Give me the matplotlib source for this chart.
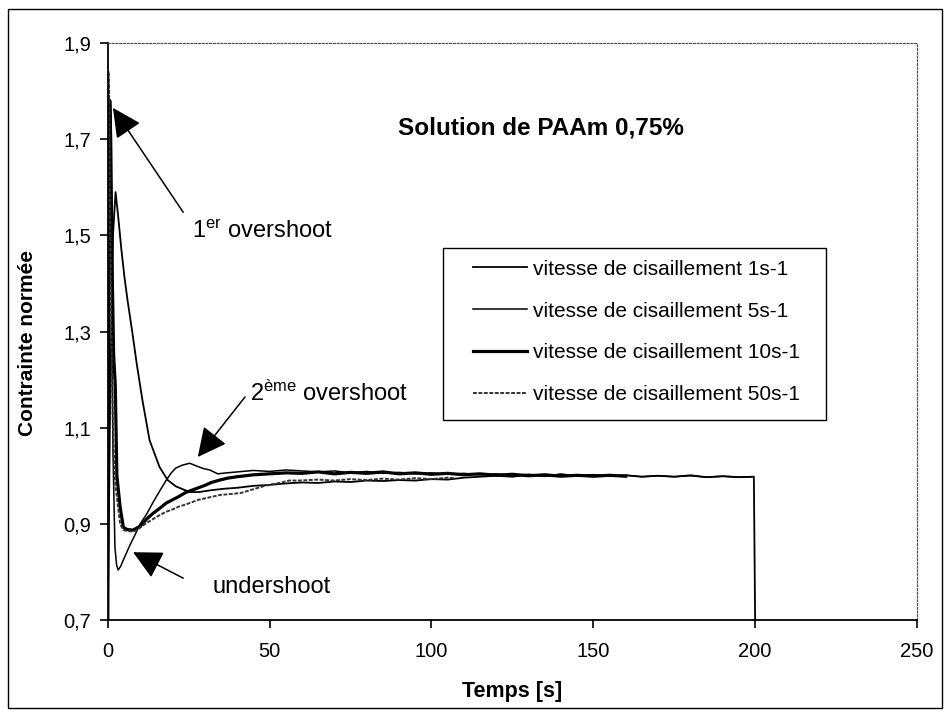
import matplotlib
matplotlib.use("Agg")
import matplotlib.pyplot as plt
from matplotlib.patches import Rectangle

plt.rcParams['font.family'] = ['Liberation Sans', 'DejaVu Sans']
plt.rcParams['mathtext.fontset'] = 'custom'
plt.rcParams['mathtext.rm'] = 'Liberation Sans'
plt.rcParams['mathtext.it'] = 'Liberation Sans:italic'
plt.rcParams['mathtext.bf'] = 'Liberation Sans:bold'

# ---------------- data ----------------
t_1 = [0, 0.8, 1.6, 2.4, 3.2, 4.2, 5.2, 6.1, 7.6, 9.0, 10.7, 12.9, 14.5, 16.0, 18.5, 21.0,
       25.3, 28, 32, 36, 40, 45, 50, 55, 60, 65, 70, 75, 80, 85, 90, 95, 100, 105, 110,
       115, 120, 125, 130, 135, 140, 145, 150, 155, 160, 165, 170, 175, 180, 185, 190,
       195, 199.6, 200.0]
y_1 = [0.70, 1.20, 1.50, 1.59, 1.54, 1.47, 1.41, 1.365, 1.297, 1.23, 1.157, 1.074, 1.045,
       1.018, 0.991, 0.978, 0.966, 0.966, 0.970, 0.973, 0.975, 0.979, 0.981, 0.984, 0.986,
       0.985, 0.988, 0.987, 0.990, 0.989, 0.991, 0.990, 0.993, 0.992, 0.996, 0.998, 1.000,
       0.998, 1.002, 0.999, 1.003, 1.000, 1.002, 0.999, 1.001, 0.998, 1.000, 0.998, 1.001,
       0.997, 0.999, 0.997, 0.998, 0.690]

t_5 = [0, 0.4, 0.8, 1.2, 1.6, 2.2, 2.7, 3.2, 4.0, 5.0, 5.8, 7.0, 8.4, 10, 12, 14, 16, 18,
       19.5, 21, 23, 25.3, 27.5, 29.5, 31.5, 34, 36.7, 40, 45, 50, 55, 60, 65, 70, 75, 80,
       85, 90, 95, 100, 105, 110, 115, 120, 125, 130, 135, 140, 145, 150, 155, 160, 165,
       170, 175, 180, 185, 190, 195, 199]
y_5 = [0.70, 1.45, 1.62, 1.35, 1.05, 0.852, 0.815, 0.804, 0.812, 0.828, 0.840, 0.858, 0.877,
       0.900, 0.920, 0.945, 0.968, 0.990, 1.005, 1.016, 1.022, 1.026, 1.020, 1.015, 1.012,
       1.004, 1.006, 1.008, 1.011, 1.009, 1.012, 1.010, 1.008, 1.010, 1.006, 1.009, 1.005,
       1.007, 1.004, 1.006, 1.003, 1.005, 1.002, 1.004, 1.001, 1.003, 1.000, 1.003, 1.000,
       1.002, 0.999, 1.001, 0.998, 1.000, 0.998, 1.000, 0.997, 0.999, 0.997, 0.998]

t_10 = [0, 0.3, 0.6, 0.9, 1.3, 1.8, 2.3, 2.8, 3.8, 4.8, 6.0, 7.8, 10, 12, 14, 16, 18, 20,
        22, 24, 26, 28, 30, 32, 34.6, 37, 40, 45, 50, 55, 60, 65, 70, 75, 80, 85, 90, 95,
        100, 105, 110, 115, 120, 125, 130, 135, 140, 145, 150, 155, 160]
y_10 = [0.70, 1.50, 1.78, 1.70, 1.45, 1.25, 1.19, 1.00, 0.935, 0.893, 0.888, 0.887, 0.895,
        0.910, 0.922, 0.932, 0.943, 0.950, 0.957, 0.965, 0.970, 0.975, 0.980, 0.986, 0.991,
        0.995, 0.998, 1.002, 1.004, 1.006, 1.005, 1.008, 1.004, 1.007, 1.005, 1.008, 1.004,
        1.006, 1.003, 1.005, 1.002, 1.004, 1.001, 1.003, 1.000, 1.002, 0.999, 1.001, 0.999,
        1.001, 0.999]

t_50 = [0, 0.2, 0.4, 0.7, 1.0, 1.6, 2.2, 2.8, 3.8, 4.8, 6.0, 7.8, 9, 10, 12, 14, 16, 18,
        20, 22, 24, 26, 28, 30, 32, 34.6, 38, 41, 45, 49, 53, 56, 59, 65, 70, 75, 80, 85,
        90, 95, 100, 105, 107]
y_50 = [0.70, 1.84, 1.80, 1.55, 1.35, 1.095, 0.990, 0.956, 0.900, 0.887, 0.885, 0.884,
        0.887, 0.892, 0.902, 0.910, 0.918, 0.925, 0.930, 0.936, 0.940, 0.945, 0.950, 0.953,
        0.956, 0.960, 0.962, 0.964, 0.972, 0.980, 0.985, 0.990, 0.990, 0.992, 0.990, 0.993,
        0.991, 0.994, 0.992, 0.995, 0.993, 0.996, 0.995]

labels = ["vitesse de cisaillement 1s-1", "vitesse de cisaillement 5s-1",
          "vitesse de cisaillement 10s-1", "vitesse de cisaillement 50s-1"]
xticks = [0, 50, 100, 150, 200, 250]
yticks = [0.7, 0.9, 1.1, 1.3, 1.5, 1.7, 1.9]
ytick_labels = ["0,7", "0,9", "1,1", "1,3", "1,5", "1,7", "1,9"]
title = "Solution de PAAm 0,75%"
xlabel = "Temps [s]"
ylabel = "Contrainte normée"

# ---------------- figure ----------------
W, H = 949, 716
fig = plt.figure(figsize=(W / 100, H / 100), dpi=100)
fig.patch.set_facecolor('white')
fig.patches.append(Rectangle((8 / W, 1 - 708 / H), (942 - 8) / W, (708 - 9) / H,
                             transform=fig.transFigure, fill=False, ec='black', lw=1.0))

L, R, T, B = 107.8, 917, 43, 620
ax = fig.add_axes([L / W, 1 - B / H, (R - L) / W, (B - T) / H])

styles = [dict(color='black', lw=1.3),
          dict(color='black', lw=1.1),
          dict(color='black', lw=2.3),
          dict(color='#333333', lw=1.4, ls=(0, (2.0, 0.8)))]
series = [(t_1, y_1), (t_5, y_5), (t_10, y_10), (t_50, y_50)]
for (tt, yy), st, lab in zip(series, styles, labels):
    ax.plot(tt, yy, label=lab, clip_on=True, **st)

ax.set_xlim(0, 250)
ax.set_ylim(0.7, 1.9)
ax.set_xticks(xticks)
ax.set_xticklabels([str(v) for v in xticks])
ax.set_yticks(yticks)
ax.set_yticklabels(ytick_labels)
ax.tick_params(axis='both', direction='out', length=6, width=1.2, labelsize=14.5, colors='black')
ax.tick_params(axis='x', pad=10)
ax.tick_params(axis='y', pad=6)

for s in ['top', 'right']:
    ax.spines[s].set_linestyle((0, (1.5, 1.5)))
    ax.spines[s].set_color('#555555')
    ax.spines[s].set_linewidth(0.9)
for s in ['left', 'bottom']:
    ax.spines[s].set_color('black')
    ax.spines[s].set_linewidth(1.3)

ax.set_xlabel(xlabel, fontsize=15.5, fontweight='bold', labelpad=14)
ax.set_ylabel(ylabel, fontsize=15, fontweight='bold', labelpad=14)
ax.yaxis.set_label_coords(-(L - 37) / (R - L), 1 - (343 - T) / (B - T))

ax.text(541 / W, 1 - 128 / H, title, transform=fig.transFigure, fontsize=17.5,
        fontweight='bold', ha='center', va='center')

# legend frame (drawn separately) and frameless legend inside it
ax.add_patch(Rectangle((443 / W, 1 - 420 / H), (826 - 443) / W, (420 - 248) / H,
                       transform=fig.transFigure, fill=True, fc='white',
                       ec='black', lw=1.0, zorder=4, clip_on=False))
leg = ax.legend(loc='upper left', bbox_to_anchor=(473 / W, 1 - 259.6 / H),
                bbox_transform=fig.transFigure, fontsize=15, frameon=False,
                handlelength=2.6, handletextpad=0.3, labelspacing=1.1, borderpad=0,
                borderaxespad=0)
leg.set_zorder(5)

arrow = dict(arrowstyle='-|>,head_length=1.8,head_width=0.9', color='black', lw=1.1,
             mutation_scale=10, shrinkA=0, shrinkB=0)
ax.annotate('', xy=(1.6, 1.765), xytext=(23.3, 1.548), arrowprops=arrow)
ax.annotate('', xy=(27.8, 1.039), xytext=(42.4, 1.164), arrowprops=arrow)
ax.annotate('', xy=(7.8, 0.841), xytext=(23.3, 0.787), arrowprops=arrow)

ax.text(26, 1.507, r'1$^{\mathrm{er}}$ overshoot', fontsize=17, ha='left', va='center')
ax.text(44, 1.172, r'2$^{\mathrm{ème}}$ overshoot', fontsize=17, ha='left', va='center')
ax.text(32.5, 0.769, 'undershoot', fontsize=17, ha='left', va='center')

fig.savefig('out.png', dpi=100, facecolor='white')
